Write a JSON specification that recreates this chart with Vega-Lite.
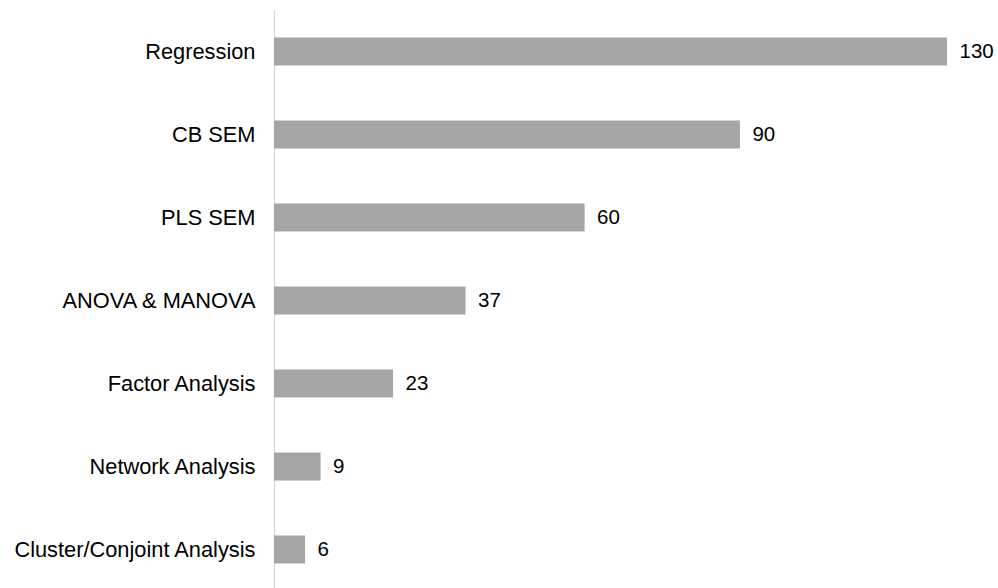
{
  "$schema": "https://vega.github.io/schema/vega-lite/v6.json",
  "autosize": {"type": "none"},
  "width": 673,
  "height": 581,
  "padding": {"left": 274, "top": 10, "right": 51, "bottom": 0},
  "background": "white",
  "config": {"view": {"stroke": null}, "font": "Liberation Sans"},
  "data": {
    "values": [
      {"method": "Regression", "count": 130},
      {"method": "CB SEM", "count": 90},
      {"method": "PLS SEM", "count": 60},
      {"method": "ANOVA & MANOVA", "count": 37},
      {"method": "Factor Analysis", "count": 23},
      {"method": "Network Analysis", "count": 9},
      {"method": "Cluster/Conjoint Analysis", "count": 6}
    ]
  },
  "encoding": {
    "y": {
      "field": "method",
      "type": "nominal",
      "sort": null,
      "scale": {"paddingInner": 0.663, "paddingOuter": 0.3315},
      "axis": {
        "title": null,
        "ticks": false,
        "domain": true,
        "domainColor": "#D9D9D9",
        "domainWidth": 1.3,
        "labelFont": "Liberation Sans",
        "labelFontSize": 21.8,
        "labelColor": "#000000",
        "labelPadding": 19,
        "labelLimit": 400
      }
    },
    "x": {
      "field": "count",
      "type": "quantitative",
      "scale": {"domain": [0, 130], "nice": false},
      "axis": null
    }
  },
  "layer": [
    {"mark": {"type": "bar", "color": "#A5A5A5", "x2": 1}},
    {
      "mark": {"type": "text", "align": "left", "baseline": "middle", "dx": 12.5, "fontSize": 20.5, "font": "Liberation Sans", "color": "#000000"},
      "encoding": {"text": {"field": "count", "type": "quantitative"}}
    }
  ]
}
